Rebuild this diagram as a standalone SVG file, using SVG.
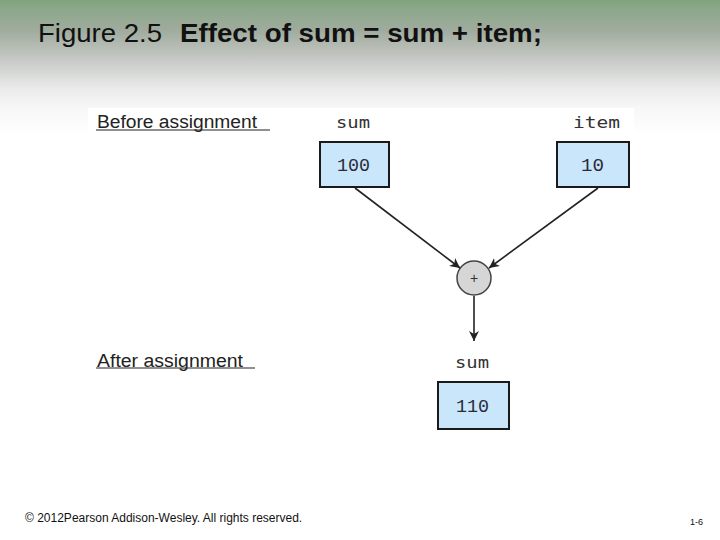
<svg xmlns="http://www.w3.org/2000/svg" width="720" height="540" viewBox="0 0 720 540">
<defs>
<linearGradient id="bg" x1="0" y1="0" x2="0" y2="1">
<stop offset="0" stop-color="#7fa47d"/>
<stop offset="0.015" stop-color="#8ba889"/>
<stop offset="0.056" stop-color="#a0ab9e"/>
<stop offset="0.11" stop-color="#c6c9c5"/>
<stop offset="0.167" stop-color="#ececec"/>
<stop offset="0.2" stop-color="#f7f7f7"/>
<stop offset="0.25" stop-color="#ffffff"/>
<stop offset="1" stop-color="#ffffff"/>
</linearGradient>
<marker id="ah" viewBox="0 0 10 10" refX="10" refY="5" markerWidth="10" markerHeight="10" markerUnits="userSpaceOnUse" orient="auto">
<path d="M0,0 L10,5 L0,10 L3,5 Z" fill="#222"/>
</marker>
<style>
.title{font-family:"Liberation Sans",Arial,sans-serif;font-size:26px;fill:#111}
.lbl{font-family:"Liberation Sans",Arial,sans-serif;font-size:18px;fill:#222}
.var{font-family:"DejaVu Sans Mono","Liberation Mono",monospace;font-size:16px;fill:#333}
.val{font-family:"Liberation Mono","DejaVu Sans Mono",monospace;font-size:18px;fill:#2a2a3a}
.box{fill:#c9e6fa;stroke:#1a1a1a;stroke-width:2}
.conn{stroke:#222;stroke-width:1.6;fill:none;marker-end:url(#ah)}
.foot{font-family:"Liberation Sans",Arial,sans-serif;fill:#111}
.ul{stroke:#222;stroke-width:1.2}
</style>
</defs>
<rect x="0" y="0" width="720" height="540" fill="url(#bg)"/>
<rect x="88" y="108" width="546" height="330" fill="#ffffff"/>
<text class="title" x="38" y="42" textLength="124" lengthAdjust="spacingAndGlyphs">Figure 2.5</text>
<text class="title" x="180" y="42" font-weight="bold" textLength="362" lengthAdjust="spacingAndGlyphs">Effect of sum = sum + item;</text>

<g id="before-label">
<text class="lbl" x="97" y="128" textLength="160" lengthAdjust="spacingAndGlyphs">Before assignment</text>
<line class="ul" x1="96" y1="130" x2="270" y2="130"/>
</g>
<g id="after-label">
<text class="lbl" x="97" y="367" textLength="146" lengthAdjust="spacingAndGlyphs">After assignment</text>
<line class="ul" x1="96" y1="368" x2="255" y2="368"/>
</g>

<g id="sum-before">
<text class="var" x="336" y="128" textLength="34" lengthAdjust="spacingAndGlyphs">sum</text>
<rect class="box" x="320" y="142" width="69" height="45"/>
<text class="val" x="337" y="171" textLength="33" lengthAdjust="spacingAndGlyphs">100</text>
</g>
<g id="item">
<text class="var" x="573" y="128" textLength="47" lengthAdjust="spacingAndGlyphs">item</text>
<rect class="box" x="557" y="142" width="72" height="45"/>
<text class="val" x="581" y="171" textLength="23" lengthAdjust="spacingAndGlyphs">10</text>
</g>
<g id="plus">
<circle cx="474" cy="278" r="17" fill="#d6d6d6" stroke="#444" stroke-width="1.5"/>
<text x="474" y="283" font-family="Liberation Sans,Arial,sans-serif" font-size="14" fill="#333" text-anchor="middle">+</text>
</g>
<g id="sum-after">
<text class="var" x="455" y="368" textLength="34" lengthAdjust="spacingAndGlyphs">sum</text>
<rect class="box" x="438" y="382" width="71" height="47"/>
<text class="val" x="456" y="412" textLength="33" lengthAdjust="spacingAndGlyphs">110</text>
</g>

<g id="connectors">
<line class="conn" x1="355" y1="188" x2="460" y2="268"/>
<line class="conn" x1="598" y1="188" x2="489" y2="268"/>
<line class="conn" x1="474" y1="296" x2="474" y2="341"/>
</g>

<text class="foot" x="25" y="522" font-size="12">© 2012Pearson Addison-Wesley. All rights reserved.</text>
<text class="foot" x="690" y="525" font-size="9">1-6</text>
</svg>
